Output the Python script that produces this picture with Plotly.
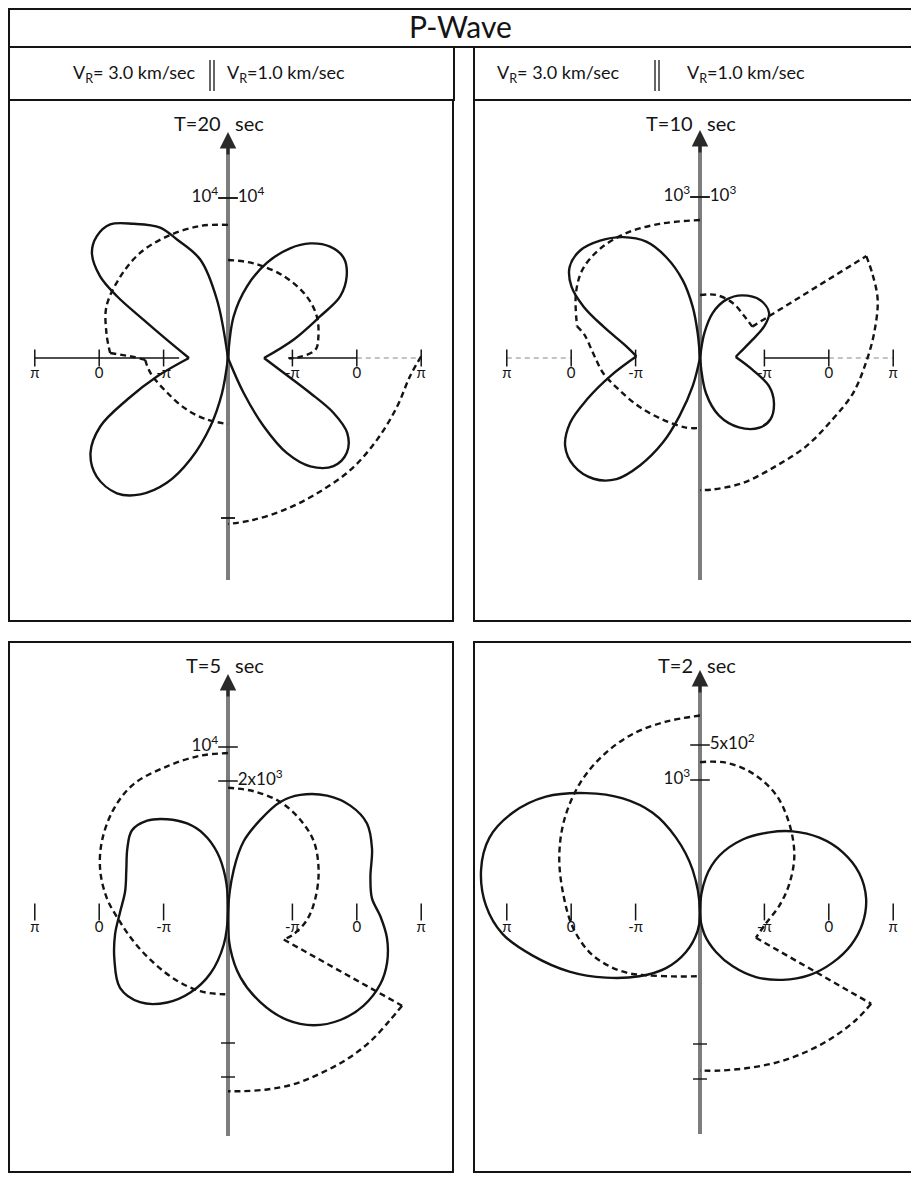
import math
import plotly.graph_objects as go

PI = math.pi
W, H = 919, 1179
OFF = 8  # the page body margin shifts the plot by 8 px

# ---------------- data (angle from vertical axis in degrees) ----------------
# T = 20 sec
t20_vr3_ang = [0, 10.7, 15.7, 23.3, 27.5, 35.1, 41.4, 47.1, 52.3, 57.4, 60.9, 65.6, 73.3, 90,
               104.5, 112.4, 118.2, 124.6, 132.1, 140.6, 147.3, 153.9, 159.7, 165.5, 170.3, 180]
t20_vr3_amp = [0, 3690, 6380, 8060, 9190, 10250, 11130, 11190, 10750, 9500, 7940, 5810, 4000, 2440,
               4560, 6810, 9060, 10440, 11060, 10940, 10130, 8690, 6750, 4440, 2250, 0]
t20_vr1_ang = [0, 7.7, 14.8, 22.3, 29.5, 35.6, 42.5, 49.2, 55.5, 61.2, 65.7, 74.4, 90,
               105, 113, 117.5, 122.2, 128.6, 135.7, 142.8, 148.2, 152.4, 155.9, 180]
t20_vr1_amp = [0, 2620, 4620, 6440, 7880, 8810, 9440, 9560, 9000, 8000, 6310, 4250, 2250,
               3620, 5560, 7440, 8810, 9500, 9440, 8500, 7000, 4810, 2380, 0]
t20_vr3_ph_ang = [0, 11.9, 26.6, 39.9, 52.8, 66.9, 78.4, 87.6, 89.4, 91.2, 100.9, 119.8, 141.6, 161.2, 180]
t20_vr3_ph = [0.21, 0.30, 0.35, 0.40, 0.30, 0.16, -0.23, -0.53, -1.70, -2.24, -2.43, -2.87, -3.06, -3.11, -3.06]
t20_vr1_ph_ang = [0, 15.1, 34.3, 52, 64.9, 76.6, 84.5, 89.2, 90.3, None,
                  89.5, 95.7, 106, 118.7, 132.4, 146.6, 159.9, 172.2, 180]
t20_vr1_ph = [-1.50, -1.50, -1.45, -1.41, -1.50, -1.75, -1.99, -2.77, -3.31, None,
              3.14, 2.64, 2.30, 2.01, 1.81, 1.62, 1.62, 1.72, 1.81]

# T = 10 sec
t10_vr3_ang = [0, 5.3, 8.1, 12.5, 18.5, 24.8, 32.4, 40.4, 48.1, 55, 60.9, 66.2, 72, 81, 88.5,
               101.4, 110.1, 116.5, 123.1, 130.4, 138.6, 145.4, 150.8, 156.3, 160.5, 165.5, 180]
t10_vr3_amp = [0, 154, 321, 494, 660, 796, 889, 957, 1000, 988, 914, 790, 630, 463, 395,
               568, 747, 901, 1000, 1031, 1000, 914, 765, 574, 383, 179, 0]
t10_vr1_ang = [0, 9.8, 15.7, 24, 34, 46.3, 57, 63.8, 70.8, 82.8, 88.4,
               102.5, 112.2, 121.2, 131, 139.7, 150.7, 161.7, 170.3, 180]
t10_vr1_amp = [0, 154, 290, 395, 469, 519, 512, 444, 346, 247, 222,
               333, 463, 537, 580, 568, 494, 377, 222, 0]
t10_vr3_ph_ang = [0, 16.8, 30.6, 42.9, 53, 62.3, 75.6, 78.6, 87.3, 98.8, 111.4, 128.5, 148.8, 168.6, 180]
t10_vr3_ph = [0.45, 0.55, 0.79, 0.94, 0.89, 0.55, -0.09, -0.53, -1.06, -1.50, -2.04, -2.48, -2.77, -2.82, -2.87]
t10_vr1_ph_ang = [0, 14.2, 30.7, 46.8, 59, 58.5, 63.8, 71.8, 81.8, 91.7, 102.9, 114.9, 129.8, 144.9, 161.2, 174.5, 180]
t10_vr1_ph = [-3.21, -3.11, -3.16, -3.31, -3.31, 3.23, 3.08, 2.84, 2.30, 1.81, 1.38, 0.84, 0.45, 0.16, 0.16, 0.16, 0.16]

# T = 5 sec
t5_vr3_ang = [0, 4.4, 10.4, 17.3, 24.8, 33.3, 41.5, 49.7, 57.8, 67.5, 78.6, 90.4,
              101, 112.4, 125.1, 135.7, 146.1, 155, 164, 172.5, 180]
t5_vr3_amp = [0, 2120, 3700, 4950, 5910, 6730, 7390, 7640, 7210, 6670, 6360, 6550,
              6970, 7450, 8000, 7640, 6610, 5390, 3880, 2000, 0]
t5_vr1_ang = [0, 7.7, 12.5, 19.3, 25.4, 31.7, 40.4, 49, 57.5, 66.2, 76.2, 84.6, 91.6,
              99.2, 107.7, 115.3, 124.6, 133.9, 142.9, 151.3, 160.3, 169.3, 176.4, 180]
t5_vr1_amp = [0, 649, 1106, 1490, 1860, 2101, 2333, 2475, 2516, 2403, 2239, 2208, 2327,
              2458, 2549, 2573, 2516, 2378, 2168, 1878, 1460, 1011, 557, 0]
t5_vr3_ph_ang = [0, 10, 22.7, 36.4, 48, 60.7, 71.8, 83.6, 94.1, 107.3, 124.3, 143.4, 160.7, 174.6, 180]
t5_vr3_ph = [1.47, 1.46, 1.42, 1.47, 1.22, 0.77, 0.28, -0.34, -0.94, -1.46, -1.89, -2.11, -2.19, -2.26, -2.28]
t5_vr1_ph_ang = [0, 12, 25.4, 38.1, 50.5, 65.1, 81.1, 95.7, 108.6, 116.3,
                 118.3, 123.6, 132.3, 141, 150.2, 159.1, 167.6, 176.1, 180]
t5_vr1_ph = [-0.22, -0.26, -0.34, -0.57, -0.86, -1.41, -1.97, -2.41, -2.90, -3.25,
             3.36, 3.22, 3.10, 2.95, 2.79, 2.71, 2.58, 2.48, 2.46]

# T = 2 sec
t2_vr3_ang = [0, 9.9, 17.9, 25.5, 34.2, 43.8, 53.2, 62.1, 70.6, 79.1, 88.3,
              96.4, 104.6, 114.5, 124.9, 136.6, 148.8, 160.7, 172.9, 180]
t2_vr3_amp = [0, 324, 592, 833, 1041, 1248, 1458, 1606, 1692, 1689, 1622,
              1504, 1310, 1088, 869, 670, 497, 321, 142, 0]
t2_vr1_ang = [0, 9.7, 18.9, 30.5, 41, 49, 58.1, 67.2, 76.4, 85.3, 94,
              102.3, 110.9, 120, 129.4, 139.3, 148.9, 158.2, 169, 180]
t2_vr1_amp = [0, 106, 178, 252, 316, 368, 421, 463, 491, 499, 488,
              463, 425, 378, 320, 257, 190, 129, 67, 0]
t2_vr3_ph_ang = [0, 10.1, 20.7, 31.9, 43.3, 55.8, 68.2, 81.4, 96.7, 109.9, 120.9, 131, 139.5, 157, 180]
t2_vr3_ph = [3.30, 3.15, 3.00, 2.70, 2.29, 1.72, 1.11, 0.49, -0.03, -0.54, -1.13, -1.72, -2.23, -2.87, -3.15]
t2_vr1_ph_ang = [0, 9.9, 20.8, 33, 45.2, 59.1, 72.6, 85.4, 99.8, 114.7,
                 118.2, 124.7, 133.4, 142.9, 153.2, 163.6, 173.1, 180]
t2_vr1_ph = [1.03, 1.11, 0.95, 0.53, -0.15, -0.92, -1.72, -2.40, -3.02, -3.28,
             3.19, 2.97, 2.63, 2.28, 1.95, 1.66, 1.51, 1.45]

# tick labels
phase_ticks = [-PI, 0, PI]
phase_tick_text = ['-π', '0', 'π']
periods = ['T=20', 'T=10', 'T=5', 'T=2']
amp_tick_vals_left = [1e4, 1e3, 1e4, 1e3]
amp_tick_text_left = ['10<sup>4</sup>', '10<sup>3</sup>', '10<sup>4</sup>', '10<sup>3</sup>']
amp_tick_vals_right = [1e4, 1e3, 2e3, 5e2]
amp_tick_text_right = ['10<sup>4</sup>', '10<sup>3</sup>', '2x10<sup>3</sup>', '5x10<sup>2</sup>']

# ---------------- layout constants ----------------
FONT = 'Lato, "Noto Sans", sans-serif'
INK = '#141414'
R_R = 218                    # right half-disk radius, px
PX_PER_RAD = 20.5            # phase scale, px per radian

panels = [
    dict(cx=228, cy=358, rl=219, tip=132, bottom=580, ty=123, tick_px=(160, 160), low_ticks=True,
         left=(t20_vr3_ang, t20_vr3_amp, t20_vr3_ph_ang, t20_vr3_ph),
         right=(t20_vr1_ang, t20_vr1_amp, t20_vr1_ph_ang, t20_vr1_ph),
         brk_left=([13], [7, 9]), brk_right=([12], [8, 10]),
         axis_left=[(PI, -3.9, 'solid')], axis_right=[(-3.35, 0, 'solid'), (0, PI, 'light')]),
    dict(cx=700, cy=358, rl=226, tip=130, bottom=580, ty=123, tick_px=(161, 161), low_ticks=False,
         left=(t10_vr3_ang, t10_vr3_amp, t10_vr3_ph_ang, t10_vr3_ph),
         right=(t10_vr1_ang, t10_vr1_amp, t10_vr1_ph_ang, t10_vr1_ph),
         brk_left=([14], [6]), brk_right=([10], [4, 5]),
         axis_left=[(PI, 0, 'light')], axis_right=[(-PI, 0, 'solid'), (0, PI, 'light')]),
    dict(cx=228, cy=912, rl=219, tip=674, bottom=1136, ty=665, tick_px=(165, 131), low_ticks=True,
         left=(t5_vr3_ang, t5_vr3_amp, t5_vr3_ph_ang, t5_vr3_ph),
         right=(t5_vr1_ang, t5_vr1_amp, t5_vr1_ph_ang, t5_vr1_ph),
         brk_left=([], []), brk_right=([], [9, 10]),
         axis_left=[], axis_right=[]),
    dict(cx=700, cy=912, rl=226, tip=670, bottom=1134, ty=665, tick_px=(132, 167), low_ticks=True,
         left=(t2_vr3_ang, t2_vr3_amp, t2_vr3_ph_ang, t2_vr3_ph),
         right=(t2_vr1_ang, t2_vr1_amp, t2_vr1_ph_ang, t2_vr1_ph),
         brk_left=([], []), brk_right=([], [9, 10]),
         axis_left=[], axis_right=[]),
]

PW, PH = W - OFF, H - OFF


def fx(x):
    return (x - OFF) / PW


def fy(y):
    return 1 - (y - OFF) / PH


fig = go.Figure()
polars = {}


def new_polar(cx, cy, side, R, rng):
    key = 'polar' if not polars else 'polar%d' % (len(polars) + 1)
    if side == 'L':
        dom = dict(x=[fx(cx - R), fx(cx)], y=[fy(cy + R), fy(cy - R)])
        sector = [90, 270]
    else:
        dom = dict(x=[fx(cx), fx(cx + R)], y=[fy(cy + R), fy(cy - R)])
        sector = [-90, 90]
    polars[key] = dict(domain=dom, sector=sector, bgcolor='rgba(0,0,0,0)',
                       angularaxis=dict(rotation=90, direction='clockwise', visible=False),
                       radialaxis=dict(visible=False, range=rng))
    return key


def to_theta(ang, side):
    if side == 'R':
        return ang
    return [None if a is None else 360 - a for a in ang]


def draw_curve(r, th, sp, breaks, dash):
    idx = [0] + list(breaks) + [len(r) - 1]
    for a, b in zip(idx[:-1], idx[1:]):
        fig.add_trace(go.Scatterpolar(
            r=r[a:b + 1], theta=th[a:b + 1], subplot=sp, mode='lines', connectgaps=False,
            line=dict(color=INK, width=2.4, dash=dash, shape='spline', smoothing=1.0)))


shapes, annotations = [], []

for i, p in enumerate(panels):
    cx, cy = p['cx'], p['cy']
    for side, data, tpx, tval, ttext, segs, brk in (
            ('L', p['left'], p['tick_px'][0], amp_tick_vals_left[i], amp_tick_text_left[i],
             p['axis_left'], p['brk_left']),
            ('R', p['right'], p['tick_px'][1], amp_tick_vals_right[i], amp_tick_text_right[i],
             p['axis_right'], p['brk_right'])):
        ang, amp, ph_ang, ph = data
        R = p['rl'] if side == 'L' else R_R
        horiz = 270 if side == 'L' else 90

        # phase (dashed) subplot
        sp = new_polar(cx, cy, side, R, [-2 * PI, -2 * PI + R / PX_PER_RAD])
        for a, b, style in segs:
            fig.add_trace(go.Scatterpolar(
                r=[a, b], theta=[horiz, horiz], subplot=sp, mode='lines', cliponaxis=False,
                line=dict(color=INK if style == 'solid' else '#b0b0b0', width=1.3,
                          dash='solid' if style == 'solid' else '5px,4px')))
        fig.add_trace(go.Scatterpolar(
            r=phase_ticks, theta=[horiz] * 3, subplot=sp, mode='markers+text', cliponaxis=False,
            text=phase_tick_text, textposition='bottom center',
            textfont=dict(family=FONT, size=15, color=INK),
            marker=dict(symbol='line-ns', size=12, line=dict(width=1.5, color=INK))))
        draw_curve(ph, to_theta(ph_ang, side), sp, brk[1], '6px,4px')

        # amplitude (solid) subplot
        sa = new_polar(cx, cy, side, R, [0, R * tval / tpx])
        draw_curve(amp, to_theta(ang, side), sa, brk[0], 'solid')
        fig.add_trace(go.Scatterpolar(
            r=[tval], theta=[0], subplot=sa, mode='markers+text', cliponaxis=False,
            text=[ttext], textposition='middle left' if side == 'L' else 'middle right',
            textfont=dict(family=FONT, size=17, color=INK),
            marker=dict(symbol='line-ew', size=14, line=dict(width=1.5, color=INK))))
        if p['low_ticks']:
            # same amplitude tick repeated on the downward half of the axis
            fig.add_trace(go.Scatterpolar(
                r=[tval], theta=[180], subplot=sa, mode='markers', cliponaxis=False,
                marker=dict(symbol='line-ew', size=10, line=dict(width=1.4, color=INK))))

    # vertical reference axis with arrow
    shapes.append(dict(type='line', xref='paper', yref='paper', layer='below',
                       x0=fx(cx), x1=fx(cx), y0=fy(p['tip'] + 12), y1=fy(p['bottom']),
                       line=dict(color='#7d7d7d', width=4)))
    annotations.append(dict(xref='paper', yref='paper', x=fx(cx), y=fy(p['tip']), text='',
                            showarrow=True, ax=0, ay=24, arrowhead=2, arrowsize=1.1,
                            arrowwidth=3, arrowcolor='#2a2a2a'))
    annotations.append(dict(xref='paper', yref='paper', x=fx(cx - 5), y=fy(p['ty']),
                            xanchor='right', yanchor='middle', showarrow=False, text=periods[i],
                            font=dict(family=FONT, size=20, color=INK)))
    annotations.append(dict(xref='paper', yref='paper', x=fx(cx + 5), y=fy(p['ty']),
                            xanchor='left', yanchor='middle', showarrow=False, text='sec',
                            font=dict(family=FONT, size=20, color=INK)))


def box(x0, y0, x1, y1):
    shapes.append(dict(type='rect', xref='paper', yref='paper', layer='below',
                       x0=fx(x0), x1=fx(x1), y0=fy(y1), y1=fy(y0),
                       line=dict(color=INK, width=2)))


box(9, 9, 930, 47)
box(9, 47, 454, 100)
box(474, 47, 930, 100)
box(9, 100, 453, 621)
box(474, 100, 917, 621)
box(9, 642, 453, 1172)
box(474, 642, 917, 1172)

annotations.append(dict(xref='paper', yref='paper', x=fx(460), y=fy(26), text='P-Wave',
                        showarrow=False, xanchor='center', yanchor='middle',
                        font=dict(family=FONT, size=30, color=INK)))

for left_end, bar, right_start in ((198, 212, 225), (622, 657, 685)):
    annotations.append(dict(xref='paper', yref='paper', x=fx(left_end), y=fy(74),
                            text='V<sub>R</sub>= 3.0 km/sec',
                            showarrow=False, xanchor='right', yanchor='middle',
                            font=dict(family=FONT, size=18, color=INK)))
    annotations.append(dict(xref='paper', yref='paper', x=fx(right_start), y=fy(74),
                            text='V<sub>R</sub>=1.0 km/sec',
                            showarrow=False, xanchor='left', yanchor='middle',
                            font=dict(family=FONT, size=18, color=INK)))
    for dx in (-2, 2):
        shapes.append(dict(type='line', xref='paper', yref='paper',
                           x0=fx(bar + dx), x1=fx(bar + dx), y0=fy(60), y1=fy(91),
                           line=dict(color=INK, width=1.3)))

fig.update_layout(
    width=PW, height=PH, autosize=False,
    margin=dict(l=0, r=0, t=0, b=0),
    paper_bgcolor='white', plot_bgcolor='white',
    showlegend=False,
    shapes=shapes, annotations=annotations,
    **polars)

fig.write_html("out.html")
